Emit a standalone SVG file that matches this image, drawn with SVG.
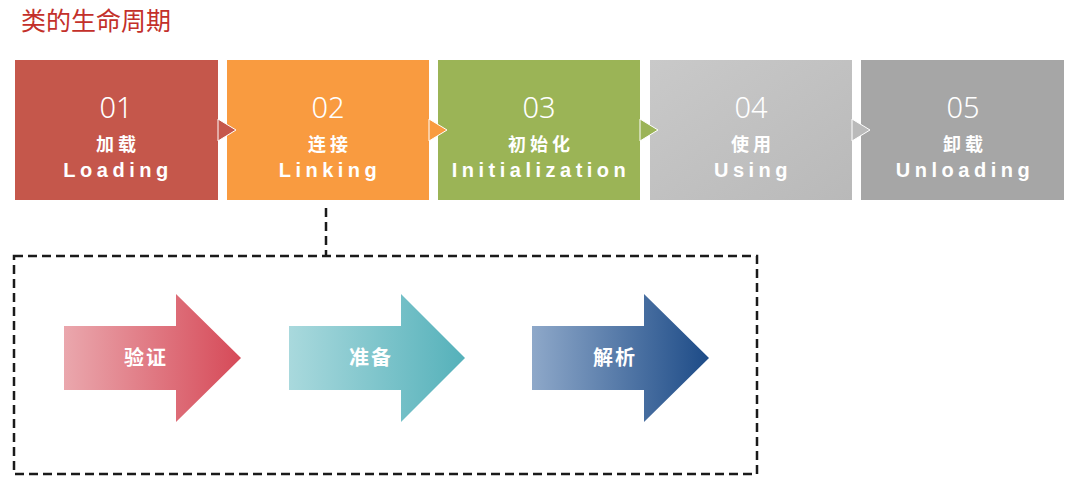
<svg xmlns="http://www.w3.org/2000/svg" width="1089" height="495" viewBox="0 0 1089 495">
<defs>
<style>
.num{font-family:"Noto Sans","Liberation Sans",sans-serif;font-weight:300;font-size:29px;fill:#fff;text-anchor:middle}
.cn{font-family:"Noto Sans CJK SC","Noto Sans",sans-serif;font-weight:bold;font-size:18px;fill:#fff;text-anchor:middle;letter-spacing:4px}
.en{font-family:"Liberation Sans","Noto Sans",sans-serif;font-weight:bold;font-size:20px;fill:#fff;text-anchor:middle;letter-spacing:4.5px}
.lab{font-family:"Noto Sans CJK SC",sans-serif;font-weight:bold;font-size:20px;fill:#fff;text-anchor:middle;letter-spacing:2px}
.dash{fill:none;stroke:#1a1a1a;stroke-width:2.5;stroke-dasharray:9 5}
.tri{stroke:#fff;stroke-width:1}
</style>
<linearGradient id="g4" x1="0" y1="0" x2="1" y2="1"><stop offset="0" stop-color="#c9c9c9"/><stop offset="1" stop-color="#b9b9b9"/></linearGradient>
<linearGradient id="ga1" x1="0" y1="0" x2="1" y2="0"><stop offset="0" stop-color="#eaa7ad"/><stop offset="1" stop-color="#d64a58"/></linearGradient>
<linearGradient id="ga2" x1="0" y1="0" x2="1" y2="0"><stop offset="0" stop-color="#a9d9dd"/><stop offset="1" stop-color="#55b1ba"/></linearGradient>
<linearGradient id="ga3" x1="0" y1="0" x2="1" y2="0"><stop offset="0" stop-color="#8ea8c9"/><stop offset="1" stop-color="#1d4b87"/></linearGradient>
</defs>
<rect width="1089" height="495" fill="#fff"/>
<text x="21" y="30" font-family="Noto Sans CJK SC,sans-serif" font-size="25" fill="#c3302a">类的生命周期</text>

<g id="n5">
<rect x="861" y="60" width="203" height="140" fill="#a6a6a6"/>
<text class="num" x="963" y="118">05</text>
<text class="cn" x="965" y="151">卸载</text>
<text class="en" x="965" y="177">Unloading</text>
</g>
<g id="n4">
<rect x="650" y="60" width="202" height="140" fill="url(#g4)"/>
<polygon class="tri" points="852,119 870,130 852,141" fill="#bababa"/>
<text class="num" x="751" y="118">04</text>
<text class="cn" x="753" y="151">使用</text>
<text class="en" x="753" y="177">Using</text>
</g>
<g id="n3">
<rect x="438" y="60" width="202" height="140" fill="#9bb456"/>
<polygon class="tri" points="640,119 658,130 640,141" fill="#9bb456"/>
<text class="num" x="539" y="118">03</text>
<text class="cn" x="541" y="151">初始化</text>
<text class="en" x="541" y="177">Initialization</text>
</g>
<g id="n2">
<rect x="227" y="60" width="202" height="140" fill="#f99b40"/>
<polygon class="tri" points="429,119 447,130 429,141" fill="#f99b40"/>
<text class="num" x="328" y="118">02</text>
<text class="cn" x="330" y="151">连接</text>
<text class="en" x="330" y="177">Linking</text>
</g>
<g id="n1">
<rect x="15" y="60" width="203" height="140" fill="#c5574b"/>
<polygon class="tri" points="218,119 236,130 218,141" fill="#c5574b"/>
<text class="num" x="116" y="118">01</text>
<text class="cn" x="118" y="151">加载</text>
<text class="en" x="118" y="177">Loading</text>
</g>

<g id="connectors">
<line class="dash" x1="326" y1="208" x2="326" y2="256"/>
</g>

<g id="linking-group">
<rect class="dash" x="14" y="256" width="743" height="218"/>
</g>

<g id="a1">
<polygon points="64,326 176,326 176,294 241,358 176,422 176,390 64,390" fill="url(#ga1)"/>
<text class="lab" x="146" y="365">验证</text>
</g>
<g id="a2">
<polygon points="289,326 401,326 401,294 465,358 401,422 401,390 289,390" fill="url(#ga2)"/>
<text class="lab" x="371" y="365">准备</text>
</g>
<g id="a3">
<polygon points="532,326 644,326 644,294 709,358 644,422 644,390 532,390" fill="url(#ga3)"/>
<text class="lab" x="615" y="365">解析</text>
</g>
</svg>
